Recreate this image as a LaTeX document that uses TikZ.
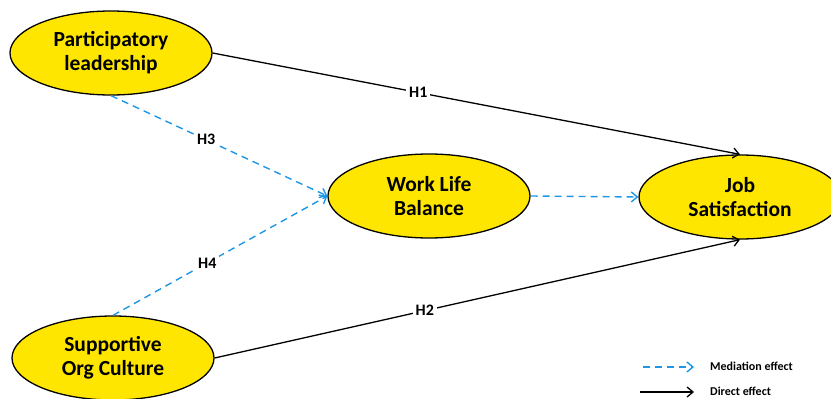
\documentclass[tikz,border=0pt]{standalone}
\usepackage{fontspec}
\setmainfont{Carlito}
\usetikzlibrary{shapes.geometric,arrows.meta}
\definecolor{ybox}{RGB}{255,230,0}
\definecolor{medblue}{RGB}{30,150,230}
\tikzset{
  construct/.style={ellipse,draw=black,line width=1.3pt,fill=ybox,minimum width=202pt,minimum height=84pt,inner sep=0pt,align=center,font=\bfseries\fontsize{21.5}{24}\selectfont},
  direct/.style={draw=black,line width=1.3pt,-{Straight Barb[length=6pt,width=10pt]}},
  mediation/.style={draw=medblue,line width=1.4pt,dash pattern=on 7pt off 5pt,-{Straight Barb[length=6pt,width=10pt]}},
  hlabel/.style={fill=white,inner sep=3pt,font=\bfseries\fontsize{16}{18}\selectfont},
  legtext/.style={anchor=west,inner sep=0pt,font=\bfseries\fontsize{12}{14}\selectfont}
}
\begin{document}
\begin{tikzpicture}[x=1pt,y=-1pt]
\useasboundingbox (0,0) rectangle (831,399);
\node[construct] (pl) at (111,53) {Participatory\\leadership};
\node[construct] (soc) at (113,358) {Supportive\\Org Culture};
\node[construct] (wlb) at (429,196) {Work Life\\Balance};
\node[construct] (js) at (740,197) {Job\\Satisfaction};
\draw[direct] (pl.east) -- node[hlabel,pos=0.39] {H1} (js.north);
\draw[direct] (soc.east) -- node[hlabel,pos=0.40] {H2} (js.south);
\draw[mediation] (pl.south) -- node[hlabel,pos=0.44] {H3} (wlb.west);
\draw[mediation] (soc.north) -- node[hlabel,pos=0.44] {H4} (wlb.west);
\draw[mediation] (wlb.east) -- (js.west);
\coordinate (m1) at (643,367);
\coordinate (m2) at (694,367);
\coordinate (d1) at (640,392);
\coordinate (d2) at (694,392);
\draw[mediation] (m1) -- (m2);
\draw[direct] (d1) -- (d2);
\node[legtext] (ml) at (710,366) {Mediation effect};
\node[legtext] (dl) at (710,391) {Direct effect};
\end{tikzpicture}
\end{document}
